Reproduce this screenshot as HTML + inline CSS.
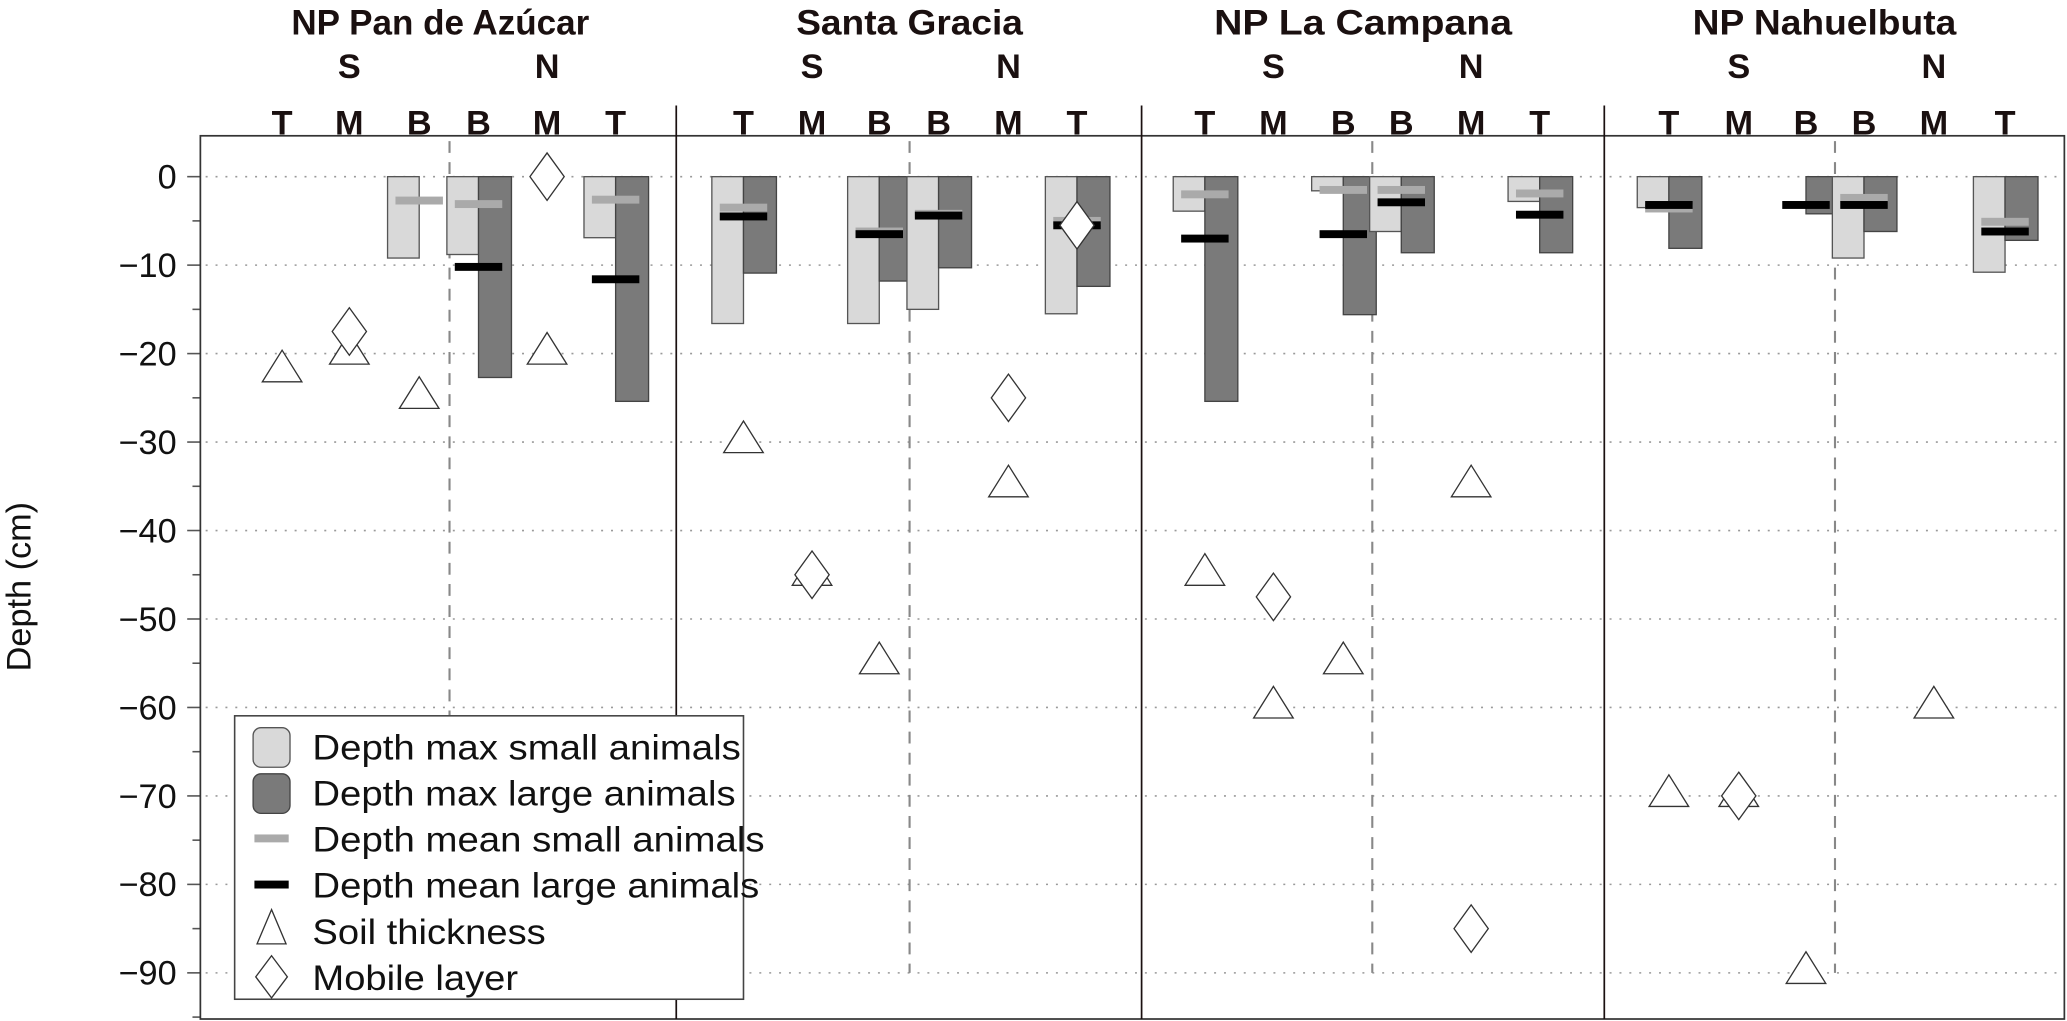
<!DOCTYPE html>
<html><head><meta charset="utf-8"><style>
html,body{margin:0;padding:0;background:#fff;}
svg{display:block;font-family:"Liberation Sans",Arial,sans-serif;}
</style></head><body>
<svg id="chart" width="2067" height="1021" viewBox="0 0 1568 774.5" xmlns="http://www.w3.org/2000/svg"></svg>
<script>
const sites = ["NP Pan de Azúcar","Santa Gracia","NP La Campana","NP Nahuelbuta"];
const positions = ["T","M","B","B","M","T"];
// values per site, per position (null = none)
const maxSmall = [
  [null,null,-9.2,-8.8,null,-6.9],
  [-16.6,null,-16.6,-15,null,-15.5],
  [-3.9,null,-1.6,-6.2,null,-2.8],
  [-3.5,null,null,-9.2,null,-10.8]];
const maxLarge = [
  [null,null,null,-22.7,null,-25.4],
  [-10.9,null,-11.8,-10.3,null,-12.4],
  [-25.4,null,-15.6,-8.6,null,-8.6],
  [-8.1,null,-4.2,-6.2,null,-7.2]];
const meanSmall = [
  [null,null,-2.7,-3.1,null,-2.6],
  [-3.5,null,-6.2,-4.2,null,-5.0],
  [-2.0,null,-1.5,-1.5,null,-1.9],
  [-3.6,null,null,-2.4,null,-5.1]];
const meanLarge = [
  [null,null,null,-10.2,null,-11.6],
  [-4.5,null,-6.5,-4.4,null,-5.5],
  [-7.0,null,-6.5,-2.9,null,-4.3],
  [-3.2,null,-3.2,-3.2,null,-6.2]];
const soil = [
  [-22,-20,-25,null,-20,null],
  [-30,-45,-55,null,-35,null],
  [-45,-60,-55,null,-35,null],
  [-70,-70,-90,null,-60,null]];
const mobile = [
  [null,-17.5,null,null,0,null],
  [null,-45,null,null,-25,-5.5],
  [null,-47.5,null,null,-85,null],
  [null,-70,null,null,null,null]];
const yTicks = [0,-10,-20,-30,-40,-50,-60,-70,-80,-90];
const tickLabels = ["0","\u221210","\u221220","\u221230","\u221240","\u221250","\u221260","\u221270","\u221280","\u221290"];

const svg = document.getElementById('chart');
const NS = "http://www.w3.org/2000/svg";
function mk(tag, attrs, parent){const e=document.createElementNS(NS,tag);for(const k in attrs)e.setAttribute(k,attrs[k]);(parent||svg).appendChild(e);return e;}
const y = v => 134 + (-v)*6.711;
const colX = [[214,265,318,363,415,467],[564,616,667,712,765,817],[914,966,1019,1063,1116,1168],[1266,1319,1370,1414,1467,1521]];
const x = (s,p) => colX[s][p];
const X0=152, X1=1566, YT=103, YB=773;

yTicks.forEach((t,i)=>{
  const g=mk('line',{x1:X0+4,x2:X1-4,y1:y(t),y2:y(t),stroke:'#999','stroke-width':1.2,'stroke-dasharray':'1.5 6'});
  
  
  const tk=mk('line',{x1:142,x2:X0,y1:y(t),y2:y(t),stroke:'#555','stroke-width':1.2});
  
  
  const mt=mk('line',{x1:146,x2:X0,y1:y(t-5),y2:y(t-5),stroke:'#555','stroke-width':1.2});
  
  
  const tl=mk('text',{x:134,y:y(t)+9,'text-anchor':'end','font-size':26,fill:'#111'});
  tl.textContent=tickLabels[i];
  
  
});

[341,690,1041,1392].forEach(dx=>{
  const d=mk('line',{x1:dx,x2:dx,y1:YT+4,y2:738,stroke:'#888','stroke-width':1.6,'stroke-dasharray':'9 7'});
  
  
});

for(let s=0;s<4;s++){
  for(let p=0;p<6;p++){
    const cx=x(s,p);
    if(maxSmall[s][p]!==null){
      const r=mk('rect',{x:cx-24,y:y(0),width:24,height:y(maxSmall[s][p])-y(0),fill:'#d9d9d9',stroke:'#555','stroke-width':1});
      
      
    }
    if(maxLarge[s][p]!==null){
      const r=mk('rect',{x:cx,y:y(0),width:25,height:y(maxLarge[s][p])-y(0),fill:'#7a7a7a',stroke:'#444','stroke-width':1});
      
      
    }
    if(meanSmall[s][p]!==null){
      const r=mk('rect',{x:cx-18,y:y(meanSmall[s][p])-3,width:36,height:6,fill:'#aaaaaa'});
      
      
    }
    if(meanLarge[s][p]!==null){
      const r=mk('rect',{x:cx-18,y:y(meanLarge[s][p])-3,width:36,height:6,fill:'#000'});
      
      
    }
    if(soil[s][p]!==null){
      const yy=y(soil[s][p]);
      const t=mk('polygon',{points:`${cx},${yy-16} ${cx-15},${yy+8} ${cx+15},${yy+8}`,fill:'#fff',stroke:'#333','stroke-width':1});
      
      
    }
    if(mobile[s][p]!==null){
      const yy=y(mobile[s][p]);
      const d=mk('polygon',{points:`${cx},${yy-18} ${cx+13},${yy} ${cx},${yy+18} ${cx-13},${yy}`,fill:'#fff',stroke:'#333','stroke-width':1});
      
      
    }
    const pl=mk('text',{x:cx,y:102,'text-anchor':'middle','font-size':26,'font-weight':'bold',fill:'#1a1010'});
    pl.textContent=positions[p];
    
    
  }
  const sl=mk('text',{x:x(s,1),y:59,'text-anchor':'middle','font-size':26,'font-weight':'bold',fill:'#1a1010'});
  sl.textContent='S';
  
  
  const nl=mk('text',{x:x(s,4),y:59,'text-anchor':'middle','font-size':26,'font-weight':'bold',fill:'#1a1010'});
  nl.textContent='N';
  
  
  const cx=[334,690,1034,1384][s];
  const st=mk('text',{x:cx,y:26,'text-anchor':'middle','font-size':27,'font-weight':'bold',fill:'#1a1010',lengthAdjust:'spacingAndGlyphs'});
  st.textContent=sites[s];
  st.setAttribute('textLength',[226,172,226,200][s]);
  
  
}

const fr=mk('rect',{x:X0,y:YT,width:X1-X0,height:YB-YT,fill:'none',stroke:'#333','stroke-width':1.3});


[513,866,1217].forEach(dx=>{
  const d=mk('line',{x1:dx,x2:dx,y1:80,y2:YB,stroke:'#1a1010','stroke-width':1.3});
  
  
});

const yt=mk('text',{x:0,y:0,transform:'translate(23,445) rotate(-90)','text-anchor':'middle','font-size':26,fill:'#111'});
yt.textContent='Depth (cm)';



const lg=mk('g',{});


mk('rect',{x:178,y:543,width:386,height:215,fill:'#fff',stroke:'#444','stroke-width':1.2},lg);
const legLabels=["Depth max small animals","Depth max large animals","Depth mean small animals","Depth mean large animals","Soil thickness","Mobile layer"];
const legLen=[325,321,343,339,177,156];
legLabels.forEach((lab,i)=>{
  const ly=566+i*35;
  const e=mk('g',{},lg);
  
  
  if(i===0) mk('rect',{x:192,y:ly-14,width:28,height:30,rx:6,fill:'#d9d9d9',stroke:'#555'},e);
  if(i===1) mk('rect',{x:192,y:ly-14,width:28,height:30,rx:6,fill:'#7a7a7a',stroke:'#444'},e);
  if(i===2) mk('rect',{x:193,y:ly-3,width:26,height:6,fill:'#aaa'},e);
  if(i===3) mk('rect',{x:193,y:ly-3,width:26,height:6,fill:'#000'},e);
  if(i===4) mk('polygon',{points:`206,${ly-16} 195,${ly+10} 217,${ly+10}`,fill:'#fff',stroke:'#333'},e);
  if(i===5) mk('polygon',{points:`206,${ly-16} 218,${ly} 206,${ly+16} 194,${ly}`,fill:'#fff',stroke:'#333'},e);
  const t=mk('text',{x:237,y:ly+10,'font-size':27,fill:'#111',lengthAdjust:'spacingAndGlyphs'},e);
  t.setAttribute('textLength',legLen[i]);
  t.textContent=lab;
});
</script>
</body></html>
